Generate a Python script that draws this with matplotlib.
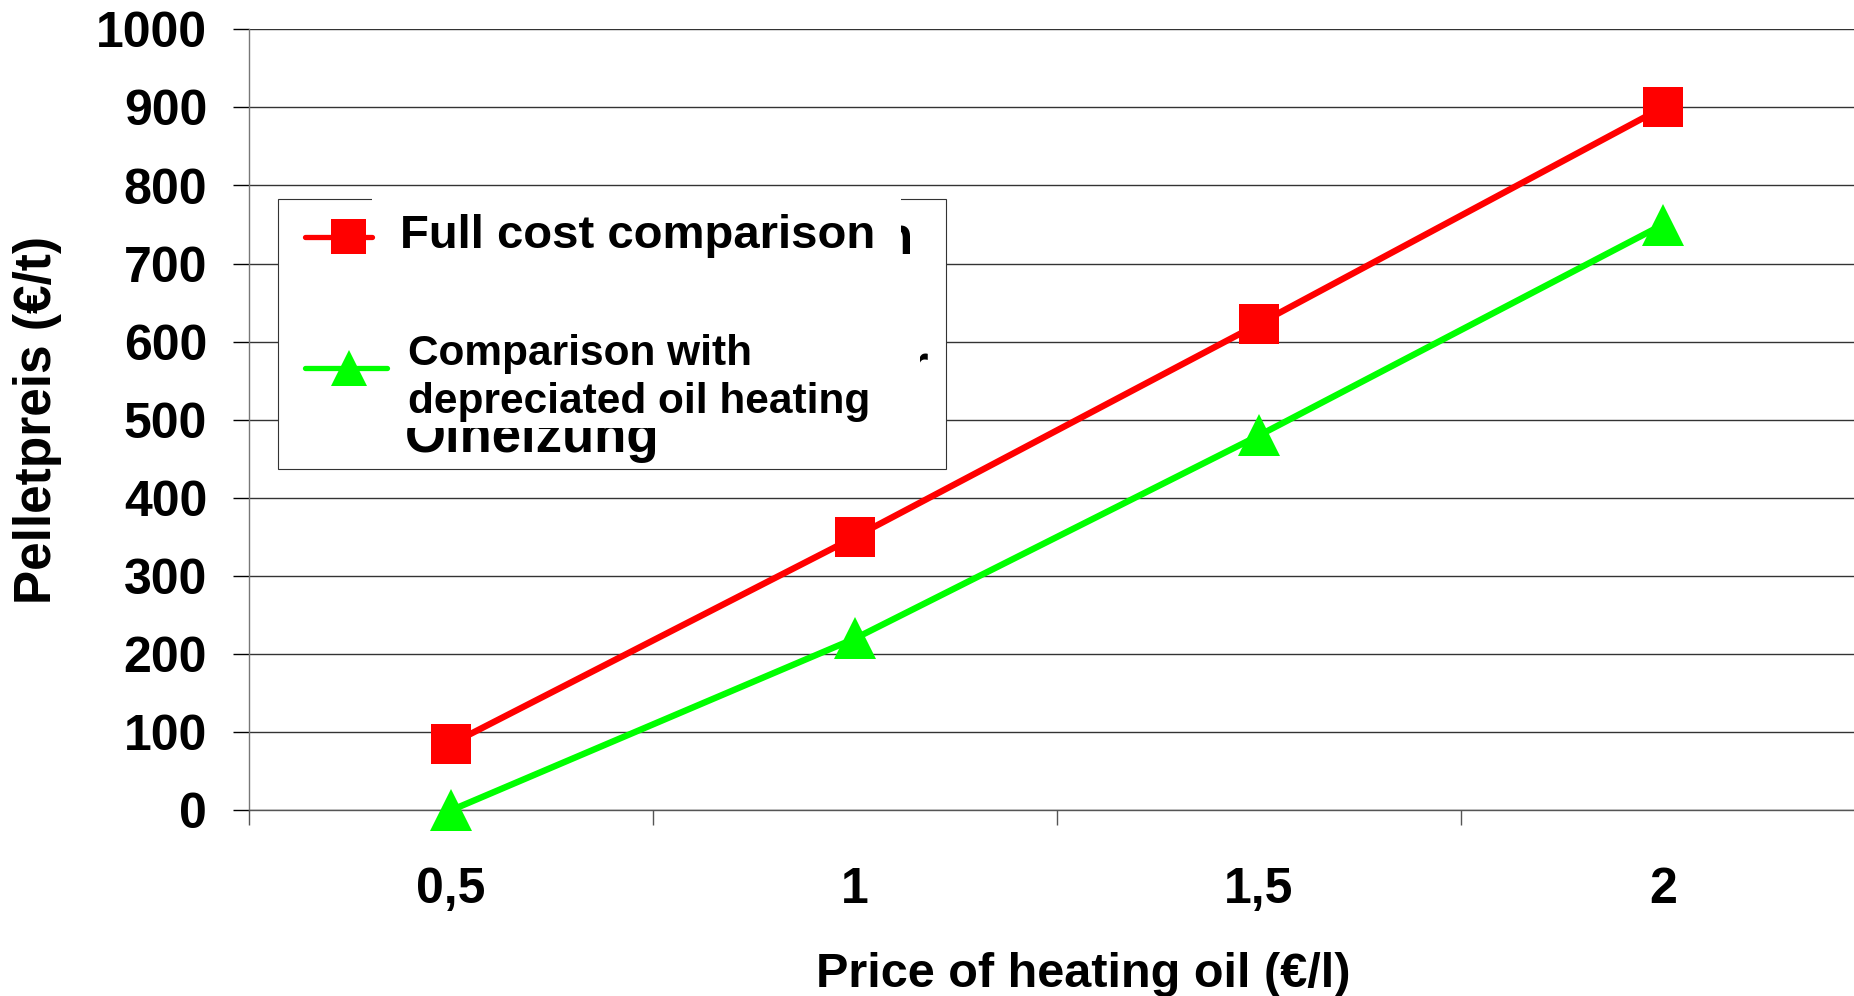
#!/usr/bin/env python3
"""Pellet price break-even versus heating oil price."""

import matplotlib
import numpy as np

matplotlib.use("Agg")
import matplotlib.pyplot as plt
from matplotlib.lines import Line2D
from matplotlib.patches import Rectangle

plt.rcParams["font.family"] = ["Liberation Sans", "DejaVu Sans"]
plt.rcParams["font.weight"] = "bold"

# data
oil_price_labels = ["0,5", "1", "1,5", "2"]
full_cost = [85, 350, 623, 900]
depreciated = [0, 220, 480, 750]
series_names = ["Full cost comparison", "Comparison with", "depreciated oil heating"]

FIG_W, FIG_H, DPI = 1854, 996, 100
RED = "#ff0000"
GREEN = "#00ff00"
GRID = "#333333"


def fx(px):
    return px / FIG_W


def fy(py):
    return 1.0 - py / FIG_H


fig = plt.figure(figsize=(FIG_W / DPI, FIG_H / DPI), dpi=DPI)
ax = fig.add_axes([fx(249), fy(810.3), 1616 / FIG_W, 781 / FIG_H])

x = np.arange(len(oil_price_labels))
ax.plot(x, full_cost, color=RED, lw=4.6, marker="s", ms=28.8, mew=0,
        clip_on=False, zorder=3, solid_capstyle="butt")
ax.plot(x, depreciated, color=GREEN, lw=4.6, marker="^", ms=30, mew=0,
        clip_on=False, zorder=3, solid_capstyle="butt")

ax.set_xlim(-0.5, 3.5)
ax.set_ylim(0, 1000)
ax.set_yticks(np.arange(0, 1001, 100))
ax.yaxis.grid(True, color=GRID, lw=1.0)
ax.set_axisbelow(True)
ax.set_xticks(x)
ax.set_xticklabels(oil_price_labels)
ax.set_xticks(np.arange(-0.5, 3.6, 1.0), minor=True)
ax.tick_params(axis="x", which="major", length=0, pad=41, labelsize=36)
ax.tick_params(axis="x", which="minor", length=10.8, width=1.0,
               color="#555555", direction="out")
ax.tick_params(axis="y", length=11.5, width=1.0, pad=18.7, labelsize=36,
               color="black")
for side in ("top", "right"):
    ax.spines[side].set_visible(False)
ax.spines["left"].set_color("#777777")
ax.spines["left"].set_linewidth(1.0)
ax.spines["bottom"].set_color("#555555")
ax.spines["bottom"].set_linewidth(1.0)

fig.text(fx(1083), fy(952), "Price of heating oil (€/l)", ha="center",
         va="top", fontsize=35)
fig.text(fx(38), fy(420), "Pelletpreis (€/t)", rotation=90, ha="center",
         va="center", fontsize=37)

# legend box (English labels pasted over the original German legend)
tf = fig.transFigure
fig.add_artist(Rectangle((fx(278), fy(469)), (946 - 278) / FIG_W,
                         (469 - 199) / FIG_H, transform=tf, facecolor="white",
                         edgecolor="#333333", lw=0.8, zorder=5))
fig.text(fx(913), fy(254), "n", ha="right", va="baseline", fontsize=38,
         zorder=6)
fig.text(fx(928), fy(382), "r", ha="right", va="baseline", fontsize=38,
         zorder=6)
fig.text(fx(405), fy(452), "Ölheizung", ha="left", va="baseline",
         fontsize=38, zorder=6)
fig.add_artist(Rectangle((fx(372), fy(300)), (901 - 372) / FIG_W,
                         (300 - 189) / FIG_H, transform=tf, facecolor="white",
                         edgecolor="none", zorder=7))
fig.add_artist(Rectangle((fx(395), fy(428)), (920 - 395) / FIG_W,
                         (428 - 300) / FIG_H, transform=tf, facecolor="white",
                         edgecolor="none", zorder=7))

fig.add_artist(Line2D([fx(305), fx(372)], [fy(237), fy(237)], transform=tf,
                      color=RED, lw=3.8, solid_capstyle="round", zorder=8))
fig.add_artist(Line2D([fx(347.5)], [fy(236)], transform=tf, color=RED,
                      marker="s", ms=25.2, mew=0, zorder=8))
fig.add_artist(Line2D([fx(305), fx(387)], [fy(368), fy(368)], transform=tf,
                      color=GREEN, lw=3.8, solid_capstyle="round", zorder=8))
fig.add_artist(Line2D([fx(349)], [fy(368)], transform=tf, color=GREEN,
                      marker="^", ms=26.6, mew=0, zorder=8))

fig.text(fx(400), fy(248), series_names[0], ha="left", va="baseline",
         fontsize=34, zorder=8)
fig.text(fx(408), fy(365), series_names[1], ha="left", va="baseline",
         fontsize=30.5, zorder=8)
fig.text(fx(408), fy(413), series_names[2], ha="left", va="baseline",
         fontsize=30.5, zorder=8)

fig.savefig("out.png", dpi=DPI)
plt.close(fig)
